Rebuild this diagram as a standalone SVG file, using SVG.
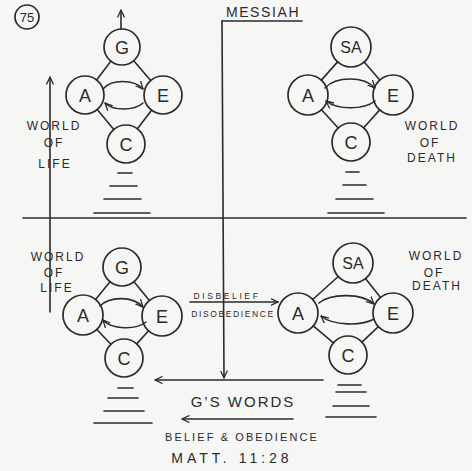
<svg xmlns="http://www.w3.org/2000/svg" width="472" height="471" viewBox="0 0 472 471">
<defs>
<marker id="ah" viewBox="0 0 8 8" refX="7.5" refY="4" markerWidth="8" markerHeight="8" markerUnits="userSpaceOnUse" orient="auto">
<path d="M0,0.5 L7.5,4 L0,7.5" fill="none" stroke="#2b2b2b" stroke-width="1.3"/>
</marker>
<style>
.ln{stroke:#2b2b2b;stroke-width:1.6;fill:none;stroke-linecap:round}
.nd{stroke:#2b2b2b;stroke-width:1.7;fill:none}
.lt{font-family:"Liberation Sans","DejaVu Sans",sans-serif;fill:#2b2b2b;text-anchor:middle}
.big{font-size:18px}
.sa{font-size:16px}
.lbl{font-size:12px;letter-spacing:2px}
.sm{font-size:8.5px}
</style>
</defs>
<rect width="472" height="471" fill="#f6f6f4"/>

<g id="page-number">
<circle class="nd" cx="27" cy="17" r="12"/>
<text class="lt" x="27" y="22" font-size="13">75</text>
</g>

<g id="messiah">
<text class="lt" x="263" y="17" font-size="14" letter-spacing="1.6">MESSIAH</text>
</g>

<g id="tl-G"><circle class="nd" cx="122" cy="47" r="18"/><text class="lt big" x="122" y="53.5">G</text></g>
<g id="tl-A"><circle class="nd" cx="85" cy="95" r="19"/><text class="lt big" x="85" y="101.5">A</text></g>
<g id="tl-E"><circle class="nd" cx="163" cy="95" r="19"/><text class="lt big" x="163" y="101.5">E</text></g>
<g id="tl-C"><circle class="nd" cx="126" cy="144" r="19"/><text class="lt big" x="126" y="150.5">C</text></g>

<g id="tr-SA"><circle class="nd" cx="351" cy="47" r="20"/><text class="lt sa" x="351" y="53">SA</text></g>
<g id="tr-A"><circle class="nd" cx="308" cy="95" r="20"/><text class="lt big" x="308" y="101.5">A</text></g>
<g id="tr-E"><circle class="nd" cx="393" cy="95" r="20"/><text class="lt big" x="393" y="101.5">E</text></g>
<g id="tr-C"><circle class="nd" cx="351" cy="142" r="19"/><text class="lt big" x="351" y="148.5">C</text></g>

<g id="bl-G"><circle class="nd" cx="122" cy="267" r="19"/><text class="lt big" x="122" y="273.5">G</text></g>
<g id="bl-A"><circle class="nd" cx="83" cy="315" r="20"/><text class="lt big" x="83" y="321.5">A</text></g>
<g id="bl-E"><circle class="nd" cx="162" cy="316" r="20"/><text class="lt big" x="162" y="322.5">E</text></g>
<g id="bl-C"><circle class="nd" cx="124" cy="358" r="19"/><text class="lt big" x="124" y="364.5">C</text></g>

<g id="br-SA"><circle class="nd" cx="353" cy="263" r="20"/><text class="lt sa" x="353" y="269">SA</text></g>
<g id="br-A"><circle class="nd" cx="298" cy="313" r="20"/><text class="lt big" x="298" y="319.5">A</text></g>
<g id="br-E"><circle class="nd" cx="393" cy="313" r="20"/><text class="lt big" x="393" y="319.5">E</text></g>
<g id="br-C"><circle class="nd" cx="348" cy="355" r="19"/><text class="lt big" x="348" y="361.5">C</text></g>

<g id="labels">
<text class="lt lbl" x="54" y="130">WORLD</text>
<text class="lt lbl" x="54" y="147">OF</text>
<text class="lt lbl" x="55" y="168">LIFE</text>
<text class="lt lbl" x="432" y="130">WORLD</text>
<text class="lt lbl" x="430" y="147">OF</text>
<text class="lt lbl" x="432" y="162">DEATH</text>
<text class="lt lbl" x="58" y="261">WORLD</text>
<text class="lt lbl" x="54" y="277">OF</text>
<text class="lt lbl" x="57" y="292">LIFE</text>
<text class="lt lbl" x="436" y="260">WORLD</text>
<text class="lt lbl" x="434" y="277">OF</text>
<text class="lt lbl" x="437" y="290">DEATH</text>
<text class="lt sm" x="227" y="299" letter-spacing="2.6">DISBELIEF</text>
<text class="lt sm" x="233" y="317" letter-spacing="1.6">DISOBEDIENCE</text>
<text class="lt" x="243" y="407" font-size="15" letter-spacing="2">G’S WORDS</text>
<text class="lt" x="242" y="441" font-size="11" letter-spacing="2.1">BELIEF &amp; OBEDIENCE</text>
<text class="lt" x="232" y="463" font-size="14" letter-spacing="4">MATT. 11:28</text>
</g>

<g id="connectors">
<line class="ln" x1="23" y1="218" x2="466" y2="218"/>
<line class="ln" x1="222" y1="21" x2="302" y2="21"/>
<line class="ln" x1="222" y1="21" x2="224" y2="378" marker-end="url(#ah)"/>
<line class="ln" x1="50" y1="312" x2="50" y2="77" marker-end="url(#ah)"/>
<line class="ln" x1="121" y1="29" x2="121" y2="10" marker-end="url(#ah)"/>
<line class="ln" x1="323" y1="380" x2="155" y2="380" marker-end="url(#ah)"/>
<line class="ln" x1="293" y1="419" x2="182" y2="419" marker-end="url(#ah)"/>
<line class="ln" x1="190" y1="302" x2="278" y2="302" marker-end="url(#ah)"/>

<line class="ln" x1="111" y1="61" x2="96.6" y2="80"/>
<line class="ln" x1="133.7" y1="60.7" x2="150.7" y2="80.5"/>
<line class="ln" x1="97.2" y1="109.6" x2="113.8" y2="129.4"/>
<line class="ln" x1="151.6" y1="110.2" x2="137.4" y2="128.8"/>
<path class="ln" d="M103,89 C111,79 134,79 143,89" marker-end="url(#ah)"/>
<path class="ln" d="M143,103 C134,111 113,111 105,103" marker-end="url(#ah)"/>

<line class="ln" x1="337.6" y1="61.9" x2="321.4" y2="80.1"/>
<line class="ln" x1="364.2" y1="62" x2="379.8" y2="80"/>
<line class="ln" x1="321.5" y1="109.8" x2="338.2" y2="128"/>
<line class="ln" x1="379.7" y1="109.9" x2="363.7" y2="127.8"/>
<path class="ln" d="M325,88 C336,76 364,76 375,88" marker-end="url(#ah)"/>
<path class="ln" d="M375,101 C364,110 337,110 326,101" marker-end="url(#ah)"/>

<line class="ln" x1="110" y1="281.8" x2="95.6" y2="299.5"/>
<line class="ln" x1="134" y1="281.7" x2="149.4" y2="300.5"/>
<line class="ln" x1="96.8" y1="329.5" x2="110.9" y2="344.2"/>
<line class="ln" x1="148.6" y1="330.8" x2="136.7" y2="343.9"/>
<path class="ln" d="M100,306 C110,296 133,296 143,307" marker-end="url(#ah)"/>
<path class="ln" d="M146,322 C136,330 112,330 103,320" marker-end="url(#ah)"/>

<line class="ln" x1="338.2" y1="276.5" x2="312.8" y2="299.5"/>
<line class="ln" x1="365.5" y1="278.6" x2="380.5" y2="297.4"/>
<line class="ln" x1="313.3" y1="325.9" x2="333.4" y2="342.8"/>
<line class="ln" x1="378.4" y1="326.6" x2="361.9" y2="342.1"/>
<path class="ln" d="M319,303 C331,293 362,293 374,304" marker-end="url(#ah)"/>
<path class="ln" d="M374,319 C362,326 333,326 321,316" marker-end="url(#ah)"/>
</g>

<g id="stairs">
<line class="ln" x1="118" y1="173" x2="132" y2="173"/>
<line class="ln" x1="110" y1="186" x2="137" y2="186"/>
<line class="ln" x1="104" y1="199" x2="141" y2="199"/>
<line class="ln" x1="94" y1="213" x2="150" y2="213"/>
<line class="ln" x1="346" y1="172" x2="359" y2="172"/>
<line class="ln" x1="343" y1="185" x2="366" y2="185"/>
<line class="ln" x1="336" y1="199" x2="373" y2="199"/>
<line class="ln" x1="328" y1="213" x2="384" y2="213"/>
<line class="ln" x1="118" y1="388" x2="133" y2="388"/>
<line class="ln" x1="108" y1="398" x2="138" y2="398"/>
<line class="ln" x1="104" y1="411" x2="144" y2="411"/>
<line class="ln" x1="94" y1="423" x2="152" y2="423"/>
<line class="ln" x1="338" y1="385" x2="361" y2="385"/>
<line class="ln" x1="336" y1="392" x2="366" y2="392"/>
<line class="ln" x1="333" y1="406" x2="369" y2="406"/>
<line class="ln" x1="326" y1="417" x2="376" y2="417"/>
</g>
</svg>
